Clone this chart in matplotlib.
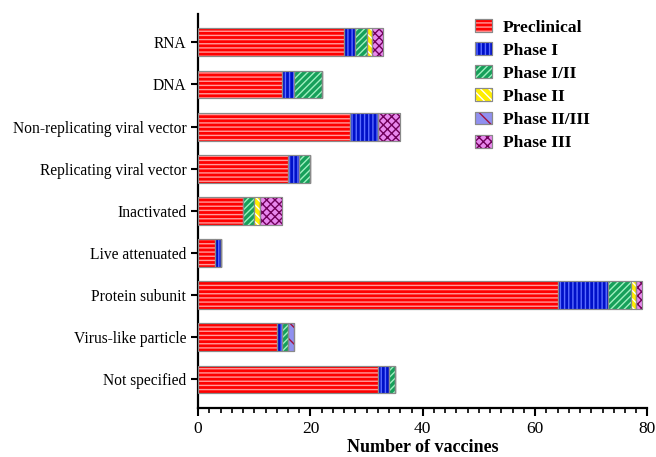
import numpy as np
import matplotlib
matplotlib.use("Agg")
import matplotlib.pyplot as plt
from matplotlib.ticker import MultipleLocator

plt.rcParams["font.family"] = ["Liberation Serif", "DejaVu Serif"]
plt.rcParams["hatch.linewidth"] = 1.0

categories = ["RNA", "DNA", "Non-replicating viral vector", "Replicating viral vector",
              "Inactivated", "Live attenuated", "Protein subunit", "Virus-like particle",
              "Not specified"]

preclinical = [26, 15, 27, 16, 8, 3, 64, 14, 32]
phase1 = [2, 2, 5, 2, 0, 1, 9, 1, 2]
phase1_2 = [2, 5, 0, 2, 2, 0, 4, 1, 1]
phase2 = [1, 0, 0, 0, 1, 0, 1, 0, 0]
phase2_3 = [0, 0, 0, 0, 0, 0, 0, 1, 0]
phase3 = [2, 0, 4, 0, 4, 0, 1, 0, 0]

series = [
    ("Preclinical", preclinical, "#ff0000", "#ff9a9a", "----"),
    ("Phase I", phase1, "#0010c8", "#5a6cff", "||||"),
    ("Phase I/II", phase1_2, "#16a05a", "#9ff0c0", "/////"),
    ("Phase II", phase2, "#ffee00", "#ffffff", "\\\\\\\\"),
    ("Phase II/III", phase2_3, "#9090f0", "#a0103c", "\\\\"),
    ("Phase III", phase3, "#e888ee", "#70005a", "xxxx"),
]

fig, ax = plt.subplots(figsize=(6.56, 4.57), dpi=100)
fig.subplots_adjust(left=0.302, right=0.987, top=0.97, bottom=0.107)

y = np.arange(len(categories))
left = np.zeros(len(categories))
handles = []
for name, vals, face, hcol, hatch in series:
    vals = np.array(vals, dtype=float)
    b1 = ax.barh(y, vals, left=left, height=0.66, color=face,
                 edgecolor="#8a8a8a", linewidth=0.8, zorder=2)
    b2 = ax.barh(y, vals, left=left, height=0.66, fill=False, hatch=hatch,
                 edgecolor=hcol, linewidth=0, zorder=3)
    b3 = ax.barh(y, vals, left=left, height=0.66, fill=False,
                 edgecolor="#8a8a8a", linewidth=0.8, zorder=4)
    handles.append((b1[0], b2[0], b3[0]))
    left += vals

ax.set_yticks(y)
ax.set_yticklabels(categories, fontsize=11.2)
ax.set_ylim(8.68, -0.68)
ax.set_xlim(0, 80)
ax.xaxis.set_major_locator(MultipleLocator(20))
ax.xaxis.set_minor_locator(MultipleLocator(2))
ax.tick_params(axis="x", which="major", length=6, width=1.5, labelsize=12.5)
ax.tick_params(axis="x", which="minor", length=3.5, width=1.2)
ax.tick_params(axis="y", length=5, width=1.5)
ax.set_xlabel("Number of vaccines", fontsize=13, fontweight="bold", labelpad=1)

for s in ["top", "right"]:
    ax.spines[s].set_visible(False)
for s in ["left", "bottom"]:
    ax.spines[s].set_linewidth(1.6)

ax.legend(handles, [s[0] for s in series], loc="upper left",
          bbox_to_anchor=(468 / 656, 1 - 12 / 457), bbox_transform=fig.transFigure,
          borderaxespad=0, frameon=False,
          prop={"weight": "bold", "size": 12.6}, handlelength=0.97,
          handleheight=0.75, labelspacing=0.38, handletextpad=0.63)

plt.savefig("out.png", dpi=100)
